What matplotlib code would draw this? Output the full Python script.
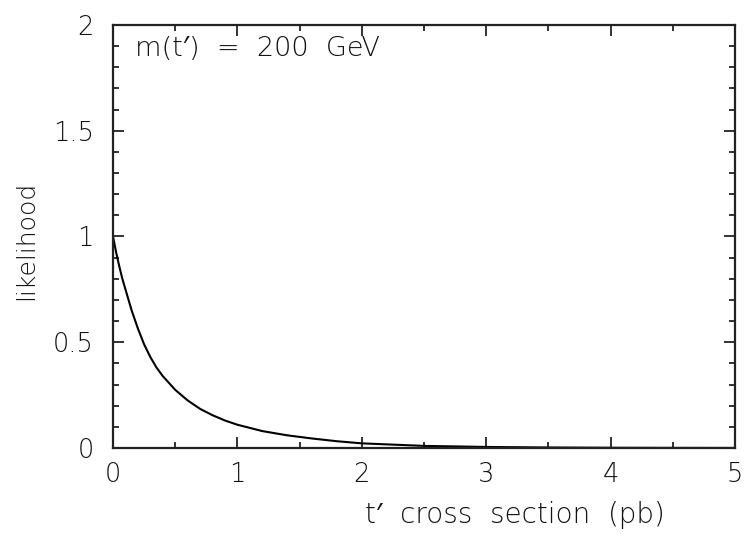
import matplotlib

matplotlib.use("Agg")
import matplotlib.pyplot as plt
from matplotlib.ticker import MultipleLocator, FuncFormatter


# likelihood curve (t' cross section in pb)
sigma_pb = [0.0, 0.025, 0.05, 0.075, 0.1, 0.15, 0.2, 0.25, 0.3, 0.35, 0.4, 0.5,
            0.6, 0.7, 0.8, 0.9, 1.0, 1.2, 1.4, 1.6, 1.8, 2.0, 2.5, 3.0, 3.5,
            4.0, 4.5, 5.0]
likelihood = [1.0, 0.925, 0.86, 0.80, 0.75, 0.65, 0.565, 0.49, 0.43, 0.38,
              0.34, 0.275, 0.225, 0.185, 0.155, 0.13, 0.11, 0.08, 0.06, 0.045,
              0.032, 0.022, 0.01, 0.005, 0.0025, 0.0012, 0.0006, 0.0003]

mass_label = "m(t\u2032)  =  200  GeV"
x_label = "t\u2032  cross  section  (pb)"
y_label = "likelihood"

plt.rcParams["font.family"] = ["DejaVu Sans", "Noto Sans", "Liberation Sans"]
plt.rcParams["font.weight"] = "light"
plt.rcParams["axes.labelweight"] = "light"

ink = "#111111"

fig = plt.figure(figsize=(7.46, 5.35), dpi=100)
ax = fig.add_axes([0.1515, 0.1626, 0.8338, 0.7907])

ax.plot(sigma_pb, likelihood, color="black", linewidth=1.5)

ax.set_xlim(0, 5)
ax.set_ylim(0, 2)

ax.xaxis.set_major_locator(MultipleLocator(1))
ax.xaxis.set_minor_locator(MultipleLocator(0.5))
ax.yaxis.set_major_locator(MultipleLocator(0.5))
ax.yaxis.set_minor_locator(MultipleLocator(0.1))
ax.yaxis.set_major_formatter(FuncFormatter(lambda v, _: f"{v:g}"))

ax.tick_params(which="both", direction="in", top=True, right=True,
               width=1.3, colors="#222222", labelcolor=ink)
ax.tick_params(which="major", length=8, labelsize=18.5)
ax.tick_params(which="minor", length=4)
ax.tick_params(axis="x", which="major", pad=10)
ax.tick_params(axis="y", which="major", pad=14)

for spine in ax.spines.values():
    spine.set_linewidth(1.6)
    spine.set_color("#222222")

ax.set_xlabel(x_label, fontsize=20, color=ink)
ax.xaxis.set_label_coords(0.646, -0.125)
ax.set_ylabel(y_label, fontsize=18, color=ink)
ax.yaxis.set_label_coords(-0.12, 0.49)

ax.text(0.035, 0.945, mass_label, transform=ax.transAxes, fontsize=19.5,
        color=ink, va="center", ha="left")

fig.savefig("out.png", dpi=100)
plt.close(fig)
